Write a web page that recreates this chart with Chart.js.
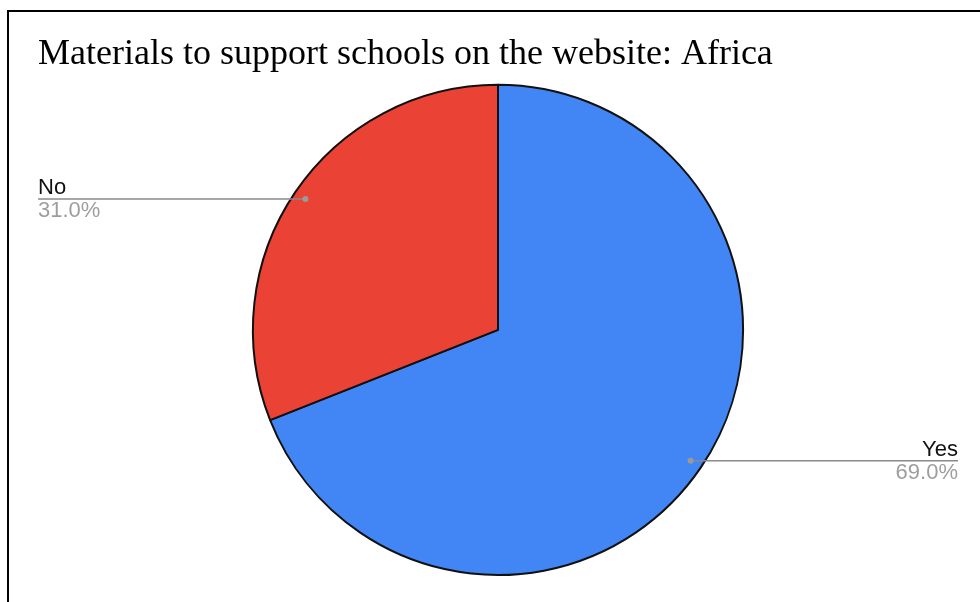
<!DOCTYPE html>
<html>
<head>
<meta charset="utf-8">
<script src="https://cdn.jsdelivr.net/npm/chart.js@4/dist/chart.umd.min.js"></script>
<style>
  html, body { margin: 0; padding: 0; background: #fff; }
  #wrap { position: relative; width: 980px; height: 602px; overflow: hidden; }
  #frame { position: absolute; left: 7px; top: 10px; width: 1000px; height: 590px;
           border-left: 2px solid #000; border-top: 2px solid #000; border-bottom: 1px solid #ddd;
           pointer-events: none; }
  canvas { position: absolute; left: 0; top: 0; }
</style>
</head>
<body>
<div id="wrap">
  <canvas id="c" width="980" height="602"></canvas>
  <div id="frame"></div>
</div>
<script>
const titleText = "Materials to support schools on the website: Africa";
const categories = ["Yes", "No"];
const values = [69.0, 31.0];
const sliceColors = ["#4285F4", "#EA4335"];

const leaderPlugin = {
  id: 'leaders',
  afterDraw(chart) {
    const ctx = chart.ctx;
    const area = chart.chartArea;
    const meta = chart.getDatasetMeta(0);
    const total = values.reduce((a, b) => a + b, 0);
    meta.data.forEach((arc, i) => {
      const mid = (arc.startAngle + arc.endAngle) / 2;
      const r = arc.outerRadius * 0.95;
      const px = arc.x + Math.cos(mid) * r;
      const py = arc.y + Math.sin(mid) * r;
      const right = Math.cos(mid) >= 0;
      const ex = right ? area.right : area.left;
      ctx.save();
      ctx.strokeStyle = '#8a8a8a';
      ctx.lineWidth = 1.5;
      ctx.beginPath();
      ctx.moveTo(px, py);
      ctx.lineTo(ex, py);
      ctx.stroke();
      ctx.fillStyle = '#9a9a9a';
      ctx.beginPath();
      ctx.arc(px, py, 3, 0, Math.PI * 2);
      ctx.fill();
      ctx.font = '22px "Liberation Sans", Arial, sans-serif';
      ctx.textAlign = right ? 'right' : 'left';
      ctx.textBaseline = 'alphabetic';
      ctx.fillStyle = '#111';
      ctx.fillText(categories[i], ex, py - 5);
      ctx.fillStyle = '#9e9e9e';
      const pct = (values[i] / total * 100).toFixed(1) + '%';
      ctx.fillText(pct, ex, py + 18);
      ctx.restore();
    });
  }
};

new Chart(document.getElementById('c'), {
  type: 'pie',
  data: {
    labels: categories,
    datasets: [{
      data: values,
      backgroundColor: sliceColors,
      borderColor: '#111',
      borderWidth: 2
    }]
  },
  options: {
    responsive: false,
    animation: false,
    layout: { padding: { left: 38, right: 22, top: 33, bottom: 26 } },
    plugins: {
      legend: { display: false },
      tooltip: { enabled: false },
      title: {
        display: true,
        text: titleText,
        align: 'start',
        color: '#000',
        font: { family: '"Liberation Serif", "Times New Roman", serif', size: 36, weight: 'normal', lineHeight: 1.2 },
        padding: { top: 0, bottom: 7.6 }
      }
    }
  },
  plugins: [leaderPlugin]
});
</script>
</body>
</html>
